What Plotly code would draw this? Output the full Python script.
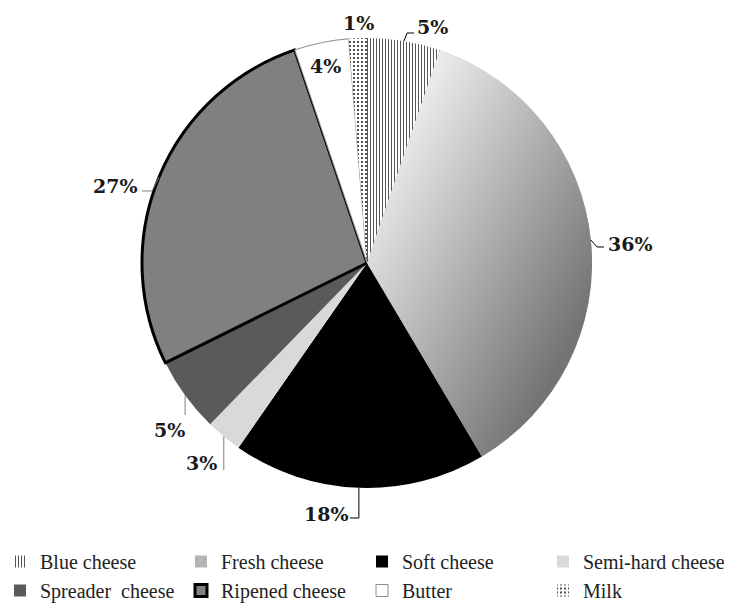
import base64, math
import plotly.graph_objects as go

# ---- data ----
categories = ["Blue cheese", "Fresh cheese", "Soft cheese", "Semi-hard cheese",
              "Spreader  cheese", "Ripened cheese", "Butter", "Milk"]
shares = [5.25, 36.2, 18.2, 2.6, 5.4, 27.1, 3.9, 1.3]
label_texts = ["5%", "36%", "18%", "3%", "5%", "27%", "4%", "1%"]

# ---- styles ----
W, H = 731, 606
CX, CY, R = 367, 263, 225
fills = ["#ffffff", "#b4b4b4", "#000000", "#d9d9d9", "#5a5a5a", "#808080", "#ffffff", "#ffffff"]
line_w = [0, 0, 0, 0, 0, 3, 1, 0]
line_c = ["#000000"] * 6 + ["#8c8c8c", "#000000"]
pat_shape = ["|", "", "", "", "", "", "", "."]
pat_fg = ["#555555", "#000", "#000", "#000", "#000", "#000", "#000", "#222222"]
pat_size = [3, 6, 6, 6, 6, 6, 6, 4]
pat_sol = [0.33, 0.3, 0.3, 0.3, 0.3, 0.3, 0.3, 0.22]

def px(x):
    return x / W

def py(y):
    return 1 - y / H

fig = go.Figure(go.Pie(
    labels=categories, values=shares, sort=False, direction="clockwise", rotation=0,
    textinfo="none", hoverinfo="label+percent",
    marker=dict(colors=fills, line=dict(color=line_c, width=line_w),
                pattern=dict(shape=pat_shape, fgcolor=pat_fg, size=pat_size, solidity=pat_sol)),
    domain=dict(x=[px(CX - R), px(CX + R)], y=[py(CY + R), py(CY - R)]),
))

# slice angles (clockwise from 12 o'clock)
total = sum(shares)
starts, ends = [], []
acc = 0.0
for v in shares:
    starts.append(360 * acc / total)
    acc += v
    ends.append(360 * acc / total)

def arc_pt(deg, r=R, cx=CX, cy=CY):
    a = math.radians(deg)
    return cx + r * math.sin(a), cy - r * math.cos(a)

# gradient overlay for the "Fresh cheese" slice (same sector as the pie slice)
a0, a1 = starts[1], ends[1]
x0, y0 = arc_pt(a0, R, R, R)
x1, y1 = arc_pt(a1, R, R, R)
large = 1 if (a1 - a0) > 180 else 0
svg = (f"<svg xmlns='http://www.w3.org/2000/svg' width='{2*R}' height='{2*R}' viewBox='0 0 {2*R} {2*R}'>"
       "<defs><linearGradient id='g' gradientUnits='userSpaceOnUse' x1='215' y1='90' x2='470' y2='225'>"
       "<stop offset='0' stop-color='#ffffff'/><stop offset='1' stop-color='#747474'/></linearGradient></defs>"
       f"<path d='M{R},{R} L{x0:.2f},{y0:.2f} A{R},{R} 0 {large} 1 {x1:.2f},{y1:.2f} Z' fill='url(#g)'/></svg>")
src = "data:image/svg+xml;base64," + base64.b64encode(svg.encode()).decode()
fig.add_layout_image(dict(source=src, xref="paper", yref="paper", x=px(CX - R), y=py(CY - R),
                          sizex=2 * R / W, sizey=2 * R / H, xanchor="left", yanchor="top",
                          sizing="stretch", layer="above"))

# label placement (pixel centres) and leader elbows
label_pos = [(432, 27), (630, 244), (326, 514), (201, 463), (169, 430), (115, 186), (325, 66), (358, 23)]
leader_pts = [
    [(407, 33), (414, 33)],
    [(597, 247), (604, 247)],
    [(None, 518), (350, 518)],
    [(None, 470)],
    [(None, 415)],
    [(152, 191), (142, 191)],
    None,
    None,
]
leader_col = ["#000", "#000", "#000", "#808080", "#808080", "#808080", None, None]

for i, txt in enumerate(label_texts):
    lx, ly = label_pos[i]
    fig.add_annotation(x=px(lx), y=py(ly), xref="paper", yref="paper", text=f"<b>{txt}</b>",
                       showarrow=False, xanchor="center", yanchor="middle",
                       font=dict(family="DejaVu Serif", size=19, color="#1a1a1a"))
    if leader_pts[i]:
        mid = (starts[i] + ends[i]) / 2
        ax, ay = arc_pt(mid)
        pts = [(ax, ay)]
        for (ex, ey) in leader_pts[i]:
            pts.append((ax if ex is None else ex, ey))
        path = "M " + " L ".join(f"{px(x):.5f},{py(y):.5f}" for x, y in pts)
        fig.add_shape(type="path", path=path, xref="paper", yref="paper",
                      line=dict(color=leader_col[i], width=1))

fig.update_layout(
    width=W, height=H, margin=dict(l=0, r=0, t=0, b=0, autoexpand=False),
    paper_bgcolor="white", plot_bgcolor="white",
    showlegend=True,
    legend=dict(orientation="h", x=0, xanchor="left", y=py(542), yanchor="top",
                entrywidth=136, entrywidthmode="pixels", traceorder="normal",
                font=dict(family="Liberation Serif", size=20, color="#222222"),
                itemclick=False, itemdoubleclick=False),
)

fig.write_html("out.html")
